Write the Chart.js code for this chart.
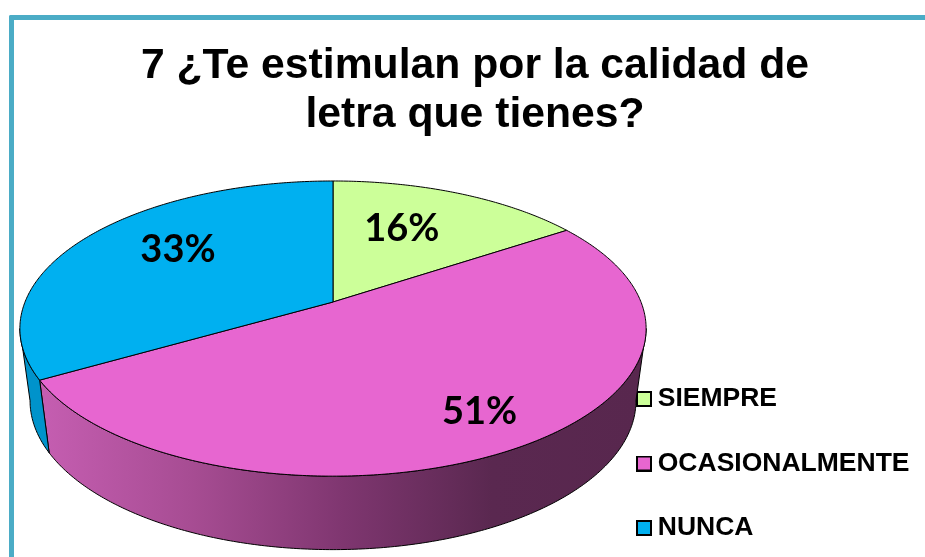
<!DOCTYPE html>
<html>
<head>
<meta charset="utf-8">
<style>
  html, body { margin: 0; padding: 0; background: #fff; overflow: hidden; }
  #marco { position: absolute; left: 9px; top: 15px; right: 0; bottom: 0; border-left: 5px solid #4BACC6; border-top: 5px solid #4BACC6; border-top-left-radius: 2px; }
  #wrap { position: absolute; left: 0; top: 0; width: 925px; height: 557px; }
</style>
</head>
<body>
<div id="marco"></div>
<div id="wrap"><canvas id="canvas" width="925" height="557"></canvas></div>
<script src="https://cdn.jsdelivr.net/npm/chart.js@4"></script>
<script>
const categorias = ['SIEMPRE', 'OCASIONALMENTE', 'NUNCA'];
const porcentajes = [15.7, 51, 33.3];
const titulo = ['7 ¿Te estimulan por la calidad de', 'letra que tienes?'];

const colores = ['#CCFF99', '#E766D0', '#00B0F0'];
// pared lateral del pastel, de izquierda a derecha
const paredes = [
    ['#A8D47E', '#A8D47E'],
    ['#C45DB0', '#A64C92', '#7F3670', '#5A2850', '#58274E'],
    ['#0093CB', '#0093CB']
];
const labelRadio = [0.63, 0.785, 0.675];
const labelGiro = [-5.2, -0.6, 6.8];

/* perspectiva del disco */
const cx = 333;
const p = 0.18;
const arriba = { a: 308, b: 142.8, cy: 302 };
const abajo = { a: 298, b: 144, cy: 374 };

function proyectar(disco, ang, r) {
    const u = r * Math.cos(ang), v = r * Math.sin(ang), w = 1 - p * v;
    return [cx + disco.a * u / w, disco.cy + disco.b * v / w];
}

function puntosArco(disco, a0, a1) {
    const pts = [];
    const n = Math.max(2, Math.ceil(Math.abs(a1 - a0) / 0.01));
    for (let i = 0; i <= n; i++) pts.push(proyectar(disco, a0 + (a1 - a0) * i / n, 1));
    return pts;
}

function trazar(ctx, pts) {
    ctx.beginPath();
    pts.forEach((q, i) => i ? ctx.lineTo(q[0], q[1]) : ctx.moveTo(q[0], q[1]));
    ctx.closePath();
}

const pastel3d = {
    id: 'pastel3d',
    afterLayout(chart) {
        chart.legend.left = 605.5;
        chart.legend.top = 347.75;
        chart.legend.bottom = 800;
    },
    beforeDatasetsDraw(chart) {
        const ctx = chart.ctx;
        const arcos = chart.getDatasetMeta(0).data;
        const limA = Math.asin(p), limB = Math.PI - Math.asin(p);
        ctx.save();
        ctx.lineWidth = 1;
        ctx.strokeStyle = '#000';
        ctx.lineJoin = 'round';

        // paredes visibles (mitad frontal)
        arcos.forEach((arco, i) => {
            const a0 = Math.max(arco.startAngle, limA), a1 = Math.min(arco.endAngle, limB);
            if (a1 <= a0) return;
            const grad = ctx.createLinearGradient(47, 0, 640, 0);
            paredes[i].forEach((c, k) => grad.addColorStop(k / (paredes[i].length - 1), c));
            trazar(ctx, puntosArco(arriba, a0, a1).concat(puntosArco(abajo, a1, a0)));
            ctx.fillStyle = grad;
            ctx.fill();
            ctx.stroke();
        });

        // cara superior
        arcos.forEach((arco, i) => {
            trazar(ctx, [[cx, arriba.cy]].concat(puntosArco(arriba, arco.startAngle, arco.endAngle)));
            ctx.fillStyle = colores[i];
            ctx.fill();
            ctx.stroke();
        });

        // porcentajes
        ctx.fillStyle = '#000';
        ctx.font = 'bold 38px Lato, sans-serif';
        ctx.textAlign = 'center';
        ctx.textBaseline = 'middle';
        arcos.forEach((arco, i) => {
            const medio = (arco.startAngle + arco.endAngle) / 2 + labelGiro[i] * Math.PI / 180;
            const q = proyectar(arriba, medio, labelRadio[i]);
            ctx.fillText(Math.round(porcentajes[i]) + '%', q[0], q[1] + 2);
        });
        ctx.restore();
        return false;
    }
};

function cajaLeyenda(color) {
    const c = document.createElement('canvas');
    c.width = 16;
    c.height = 16;
    const g = c.getContext('2d');
    g.fillStyle = '#000';
    g.fillRect(0, 0, 16, 16);
    g.fillStyle = color;
    g.fillRect(2, 2, 12, 12);
    return c;
}

const ctx = document.getElementById('canvas');

var chart1 = new Chart(ctx, {
    type: 'pie',
    data: {
        labels: categorias,
        datasets: [{ data: porcentajes, backgroundColor: colores }]
    },
    options: {
        responsive: false,
        animation: false,
        events: [],
        layout: { padding: { left: 25 } },
        plugins: {
            title: {
                display: true,
                text: titulo,
                color: '#000',
                font: { family: '"Liberation Sans", Arial, sans-serif', size: 42.7, weight: 'bold', lineHeight: 1.15 },
                padding: { top: 42, bottom: 10 }
            },
            legend: {
                position: 'right',
                align: 'start',
                labels: {
                    usePointStyle: true,
                    boxWidth: 1,
                    padding: 38,
                    color: '#000',
                    font: { family: '"Liberation Sans", Arial, sans-serif', size: 26.5, weight: 'bold' },
                    generateLabels: (chart) => categorias.map((t, i) => ({
                        text: t,
                        index: i,
                        fontColor: '#000',
                        pointStyle: cajaLeyenda(colores[i])
                    }))
                }
            },
            tooltip: { enabled: false }
        }
    },
    plugins: [pastel3d]
});
</script>
</body>
</html>
